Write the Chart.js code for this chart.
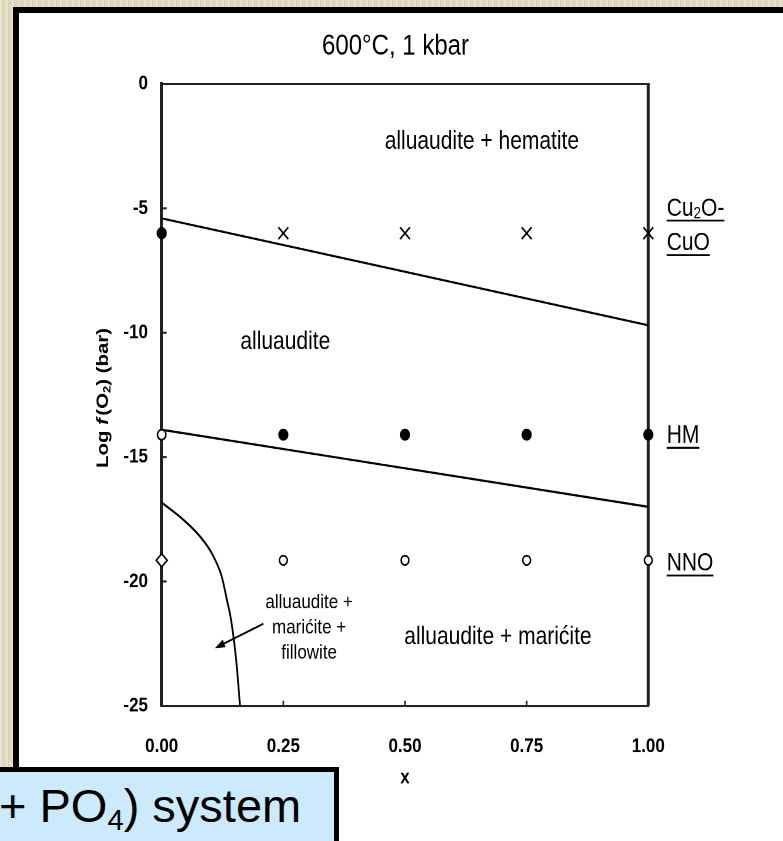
<!DOCTYPE html>
<html>
<head>
<meta charset="utf-8">
<script src="https://cdn.jsdelivr.net/npm/chart.js@4/dist/chart.umd.min.js"></script>
<style>
html,body{margin:0;padding:0;}
body{width:783px;height:841px;overflow:hidden;position:relative;
  background-color:#e2d8bf;
  background-image:repeating-linear-gradient(90deg, rgba(255,255,255,0.28) 0px, rgba(255,255,255,0.28) 2px, rgba(120,100,60,0.07) 2px, rgba(120,100,60,0.07) 3px, rgba(255,255,255,0) 3px, rgba(255,255,255,0) 6px);}
#panel{position:absolute;left:13px;top:7px;width:820px;height:900px;background:#fff;border-left:6px solid #000;border-top:6px solid #000;box-sizing:border-box;z-index:0;}
#wrap{position:absolute;left:0;top:0;width:783px;height:701px;transform:scaleY(1.19971);transform-origin:0 0;z-index:1;}
#box{position:absolute;left:-10px;top:767px;width:349px;height:100px;background:#cdeafc;border:5px solid #000;box-sizing:border-box;z-index:2;}
#boxtext{position:absolute;left:-1px;top:782px;font-family:"Liberation Sans",Arial,sans-serif;font-size:47px;line-height:47px;color:#000;white-space:nowrap;z-index:3;}
#boxtext sub{font-size:0.62em;vertical-align:-0.28em;line-height:0;}
</style>
</head>
<body>
<div id="panel"></div>
<div id="wrap"><canvas id="c" width="783" height="701"></canvas></div>
<div id="box"></div>
<div id="boxtext">+ PO<sub>4</sub>) system</div>
<script>
// ---------------- data ----------------
const xTickLabels = ['0.00', '0.25', '0.50', '0.75', '1.00'];
const yTickLabels = ['-25', '-20', '-15', '-10', '-5', '0'];

// Cu2O-CuO buffer row
const cuFilledX = [0];
const cuFilledY = [-6.0];
const cuCrossX = [0.25, 0.5, 0.75, 1.0];
const cuCrossY = [-6.0, -6.0, -6.0, -6.0];
// HM buffer row
const hmOpenX = [0];
const hmOpenY = [-14.1];
const hmFilledX = [0.25, 0.5, 0.75, 1.0];
const hmFilledY = [-14.1, -14.1, -14.1, -14.1];
// NNO buffer row
const nnoDiamondX = [0];
const nnoDiamondY = [-19.15];
const nnoOpenX = [0.25, 0.5, 0.75, 1.0];
const nnoOpenY = [-19.15, -19.15, -19.15, -19.15];
// phase boundaries
const upperBoundaryX = [0, 1];
const upperBoundaryY = [-5.4, -9.7];
const lowerBoundaryX = [0, 1];
const lowerBoundaryY = [-13.9, -17.0];
const fillowiteCurveX = [0, 0.0445, 0.0787, 0.1027, 0.1233, 0.134, 0.1425, 0.153, 0.161];
const fillowiteCurveY = [-16.83, -17.52, -18.19, -18.86, -19.8, -20.74, -21.54, -23.15, -25.0];

// labels
const titleText = '600°C, 1 kbar';
const xTitleText = 'x';
const regionTexts = ['alluaudite + hematite', 'alluaudite', 'alluaudite + marićite'];
const smallLabelLines = ['alluaudite +', 'marićite +', 'fillowite'];
const bufferTexts = ['HM', 'NNO'];

// ---------------- helpers ----------------
const FONT = '"Liberation Sans", Arial, Helvetica, sans-serif';
const zip = (xs, ys) => xs.map((x, i) => ({x: x, y: ys[i]}));

const regionLayout = [
  {x: 0.658, y: -2.33},
  {x: 0.254, y: -10.37},
  {x: 0.691, y: -22.25}
];
const smallLayout = {x: 0.303, y: [-20.86, -21.86, -22.87]};
const arrowLayout = {x1: 0.209, y1: -21.70, x2: 0.1095, y2: -22.68};

function setFont(ctx, size, weight, style) {
  ctx.font = (style || 'normal') + ' ' + (weight || 'normal') + ' ' + size + 'px ' + FONT;
}

function drawPieces(ctx, pieces, x, y, align) {
  let total = 0;
  pieces.forEach(p => { setFont(ctx, p.size, p.weight, p.style); p.w = ctx.measureText(p.t).width + (p.gap || 0); total += p.w; });
  let cx = align === 'center' ? x - total / 2 : x;
  const start = cx;
  ctx.textAlign = 'left';
  ctx.textBaseline = 'middle';
  pieces.forEach(p => {
    setFont(ctx, p.size, p.weight, p.style);
    ctx.fillText(p.t, cx, y + (p.dy || 0));
    cx += p.w;
  });
  return {start: start, width: total};
}

const framePlugin = {
  id: 'frame',
  beforeDatasetsDraw(chart) {
    const {ctx, chartArea: a, scales} = chart;
    ctx.save();
    ctx.strokeStyle = '#222';
    ctx.lineCap = 'butt';
    ctx.lineWidth = 2;
    ctx.beginPath(); ctx.moveTo(a.left - 1.5, a.top); ctx.lineTo(a.right + 1.5, a.top); ctx.stroke();
    ctx.lineWidth = 3;
    ctx.beginPath(); ctx.moveTo(a.right, a.top); ctx.lineTo(a.right, a.bottom); ctx.stroke();
    ctx.lineWidth = 1.6;
    scales.x.ticks.forEach(t => {
      const px = scales.x.getPixelForValue(t.value);
      if (px <= a.left + 2 || px >= a.right - 2) return;
      ctx.beginPath(); ctx.moveTo(px, a.bottom); ctx.lineTo(px, a.bottom - 4.2); ctx.stroke();
    });
    ctx.lineWidth = 1.8;
    scales.y.ticks.forEach(t => {
      const py = scales.y.getPixelForValue(t.value);
      if (py <= a.top + 2 || py >= a.bottom - 2) return;
      ctx.beginPath(); ctx.moveTo(a.left, py); ctx.lineTo(a.left + 5, py); ctx.stroke();
    });
    ctx.restore();
  }
};

const annotationPlugin = {
  id: 'annotations',
  afterDatasetsDraw(chart) {
    const {ctx, chartArea: a, scales} = chart;
    const X = v => scales.x.getPixelForValue(v);
    const Y = v => scales.y.getPixelForValue(v);
    ctx.save();
    ctx.fillStyle = '#000';
    ctx.strokeStyle = '#000';
    regionTexts.forEach((t, i) => {
      drawPieces(ctx, [{t: t, size: 21}], X(regionLayout[i].x), Y(regionLayout[i].y), 'center');
    });
    smallLabelLines.forEach((t, i) => {
      drawPieces(ctx, [{t: t, size: 17}], X(smallLayout.x), Y(smallLayout.y[i]), 'center');
    });
    const x1 = X(arrowLayout.x1), y1 = Y(arrowLayout.y1), x2 = X(arrowLayout.x2), y2 = Y(arrowLayout.y2);
    const ang = Math.atan2(y2 - y1, x2 - x1);
    ctx.lineWidth = 1.6;
    ctx.beginPath(); ctx.moveTo(x1, y1); ctx.lineTo(x2 - Math.cos(ang) * 6, y2 - Math.sin(ang) * 6); ctx.stroke();
    ctx.beginPath();
    ctx.moveTo(x2, y2);
    ctx.lineTo(x2 - Math.cos(ang) * 10 + Math.sin(ang) * 3.5, y2 - Math.sin(ang) * 10 - Math.cos(ang) * 3.5);
    ctx.lineTo(x2 - Math.cos(ang) * 10 - Math.sin(ang) * 3.5, y2 - Math.sin(ang) * 10 + Math.cos(ang) * 3.5);
    ctx.closePath(); ctx.fill();
    const lx = a.right + 18.4;
    const ul = (r, y) => { ctx.lineWidth = 1.6; ctx.beginPath(); ctx.moveTo(r.start, y + 9.8); ctx.lineTo(r.start + r.width, y + 9.8); ctx.stroke(); };
    let yy = Y(-5.02);
    ul(drawPieces(ctx, [{t: 'Cu', size: 21}, {t: '2', size: 13.5, dy: 4}, {t: 'O-', size: 21}], lx, yy, 'left'), yy);
    yy = Y(-6.41);
    ul(drawPieces(ctx, [{t: 'CuO', size: 21}], lx, yy, 'left'), yy);
    yy = Y(-14.15);
    ul(drawPieces(ctx, [{t: bufferTexts[0], size: 21}], lx, yy, 'left'), yy);
    yy = Y(-19.29);
    ul(drawPieces(ctx, [{t: bufferTexts[1], size: 21}], lx, yy, 'left'), yy);
    ctx.translate(103.5, (a.top + a.bottom) / 2 + 2.5);
    ctx.rotate(-Math.PI / 2);
    drawPieces(ctx, [
      {t: 'Log ', size: 17, weight: 'bold'},
      {t: 'f', size: 17, weight: 'bold', style: 'italic', gap: 2},
      {t: '(O', size: 17, weight: 'bold'},
      {t: '2', size: 11, weight: 'bold', dy: 4},
      {t: ') (bar)', size: 17, weight: 'bold'}
    ], 0, 0, 'center');
    ctx.restore();
  }
};

const lineDs = (label, xs, ys) => ({label: label, data: zip(xs, ys), showLine: true, borderColor: '#000', borderWidth: 1.8, pointRadius: 0, fill: false, clip: false, cubicInterpolationMode: 'monotone', order: 2});
const ptDs = (label, xs, ys, style, radius, fillCol, bw) => ({label: label, data: zip(xs, ys), showLine: false, pointStyle: style, pointRadius: radius, pointBackgroundColor: fillCol, pointBorderColor: '#000', pointBorderWidth: bw, clip: false, order: 1});

new Chart(document.getElementById('c'), {
  type: 'scatter',
  data: {
    datasets: [
      lineDs('Cu2O-CuO / hematite boundary', upperBoundaryX, upperBoundaryY),
      lineDs('marićite boundary', lowerBoundaryX, lowerBoundaryY),
      lineDs('fillowite boundary', fillowiteCurveX, fillowiteCurveY),
      ptDs('Cu2O-CuO, x=0', cuFilledX, cuFilledY, 'circle', 4.6, '#000', 1),
      ptDs('Cu2O-CuO', cuCrossX, cuCrossY, 'crossRot', 7, '#000', 1.5),
      ptDs('HM, x=0', hmOpenX, hmOpenY, 'circle', 4.2, '#fff', 1.5),
      ptDs('HM', hmFilledX, hmFilledY, 'circle', 4.6, '#000', 1),
      ptDs('NNO, x=0', nnoDiamondX, nnoDiamondY, 'rectRot', 5.5, '#fff', 1.5),
      ptDs('NNO', nnoOpenX, nnoOpenY, 'circle', 3.9, '#fff', 1.5)
    ]
  },
  options: {
    responsive: false,
    animation: false,
    devicePixelRatio: 2,
    events: [],
    layout: {padding: {left: 8, right: 0, top: 0, bottom: 0}, autoPadding: false},
    plugins: {
      legend: {display: false},
      tooltip: {enabled: false},
      title: {display: true, text: titleText, color: '#000', font: {family: FONT, size: 24, weight: 'normal'}, padding: {top: 24.5, bottom: 16.7}}
    },
    scales: {
      x: {
        type: 'linear', position: 'bottom', min: 0, max: 1,
        afterFit(s) { s.height = 112.7; },
        grid: {display: false, drawTicks: false},
        border: {display: true, color: '#222', width: 2},
        ticks: {stepSize: 0.25, autoSkip: false, maxRotation: 0, padding: 24, color: '#000',
          font: {family: FONT, size: 17, weight: 'bold'}, callback: (v, i) => xTickLabels[i]},
        title: {display: true, text: xTitleText, color: '#000', font: {family: FONT, size: 17, weight: 'bold'}, padding: {top: 0, bottom: 42.3}}
      },
      y: {
        type: 'linear', position: 'left', min: -25, max: 0,
        afterFit(s) { s.width = 153.7; },
        grid: {display: false, drawTicks: false},
        border: {display: true, color: '#222', width: 3},
        ticks: {stepSize: 5, autoSkip: false, padding: 13.7, color: '#000',
          font: {family: FONT, size: 17, weight: 'bold'}, callback: (v, i) => yTickLabels[i]}
      },
      y2: {
        type: 'linear', position: 'right', display: true,
        afterFit(s) { s.width = 134.7; },
        grid: {display: false, drawTicks: false},
        border: {display: false},
        ticks: {display: false}
      }
    }
  },
  plugins: [framePlugin, annotationPlugin]
});
</script>
</body>
</html>
